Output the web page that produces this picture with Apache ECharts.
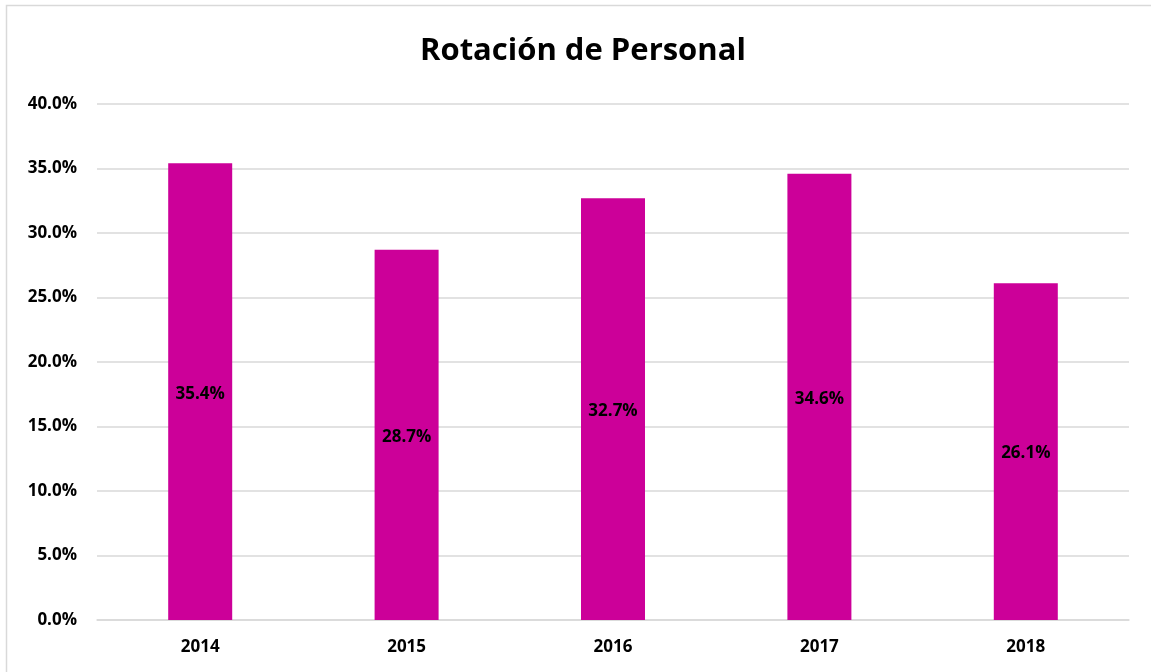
<!DOCTYPE html>
<html>
<head>
<meta charset="utf-8">
<script src="https://cdn.jsdelivr.net/npm/echarts@6/dist/echarts.min.js"></script>
<style>
  html, body { margin: 0; padding: 0; background: #fff; }
  #main { width: 1151px; height: 672px; }
</style>
</head>
<body>
<div id="main"></div>
<script>
    var years = ['2014', '2015', '2016', '2017', '2018'];
    var rotacion = [35.4, 28.7, 32.7, 34.6, 26.1];
    var font = '"Open Sans", "Liberation Sans", sans-serif';

    var myChart = echarts.init(document.getElementById('main'));

    var option = {
        title: {
            text: 'Rotación de Personal',
            left: 415,
            top: 31,
            textStyle: { fontFamily: font, fontSize: 31, fontWeight: 'bold', color: '#000' }
        },
        graphic: [{
            // light chart-area border (left / top visible)
            type: 'rect',
            shape: { x: 6.5, y: 5.5, width: 1300, height: 800 },
            style: { fill: 'none', stroke: '#d9d9d9', lineWidth: 1.5 },
            silent: true
        }],
        grid: { left: 97, right: 22, top: 104, bottom: 52 },
        xAxis: {
            type: 'category',
            data: years,
            axisTick: { show: false },
            axisLine: { lineStyle: { color: '#d9d9d9', width: 1.5 } },
            axisLabel: { fontFamily: font, fontSize: 17, fontWeight: 'bold', color: '#000', margin: 19 }
        },
        yAxis: {
            type: 'value',
            min: 0,
            max: 40,
            interval: 5,
            axisLine: { show: false },
            axisTick: { show: false },
            splitLine: { lineStyle: { color: '#d9d9d9', width: 1.5 } },
            axisLabel: {
                fontFamily: font, fontSize: 17, fontWeight: 'bold', color: '#000', margin: 20,
                formatter: function(v) { return v.toFixed(1) + '%'; }
            }
        },
        series: [{
            name: 'Rotación',
            type: 'bar',
            data: rotacion,
            barWidth: 64,
            itemStyle: { color: '#cc0099' },
            label: {
                show: true,
                position: 'inside',
                offset: [0, 2],
                fontFamily: font, fontSize: 17, fontWeight: 'bold', color: '#000',
                formatter: function(p) { return p.value.toFixed(1) + '%'; }
            }
        }]
    };
    myChart.setOption(option);
</script>
</body>
</html>
